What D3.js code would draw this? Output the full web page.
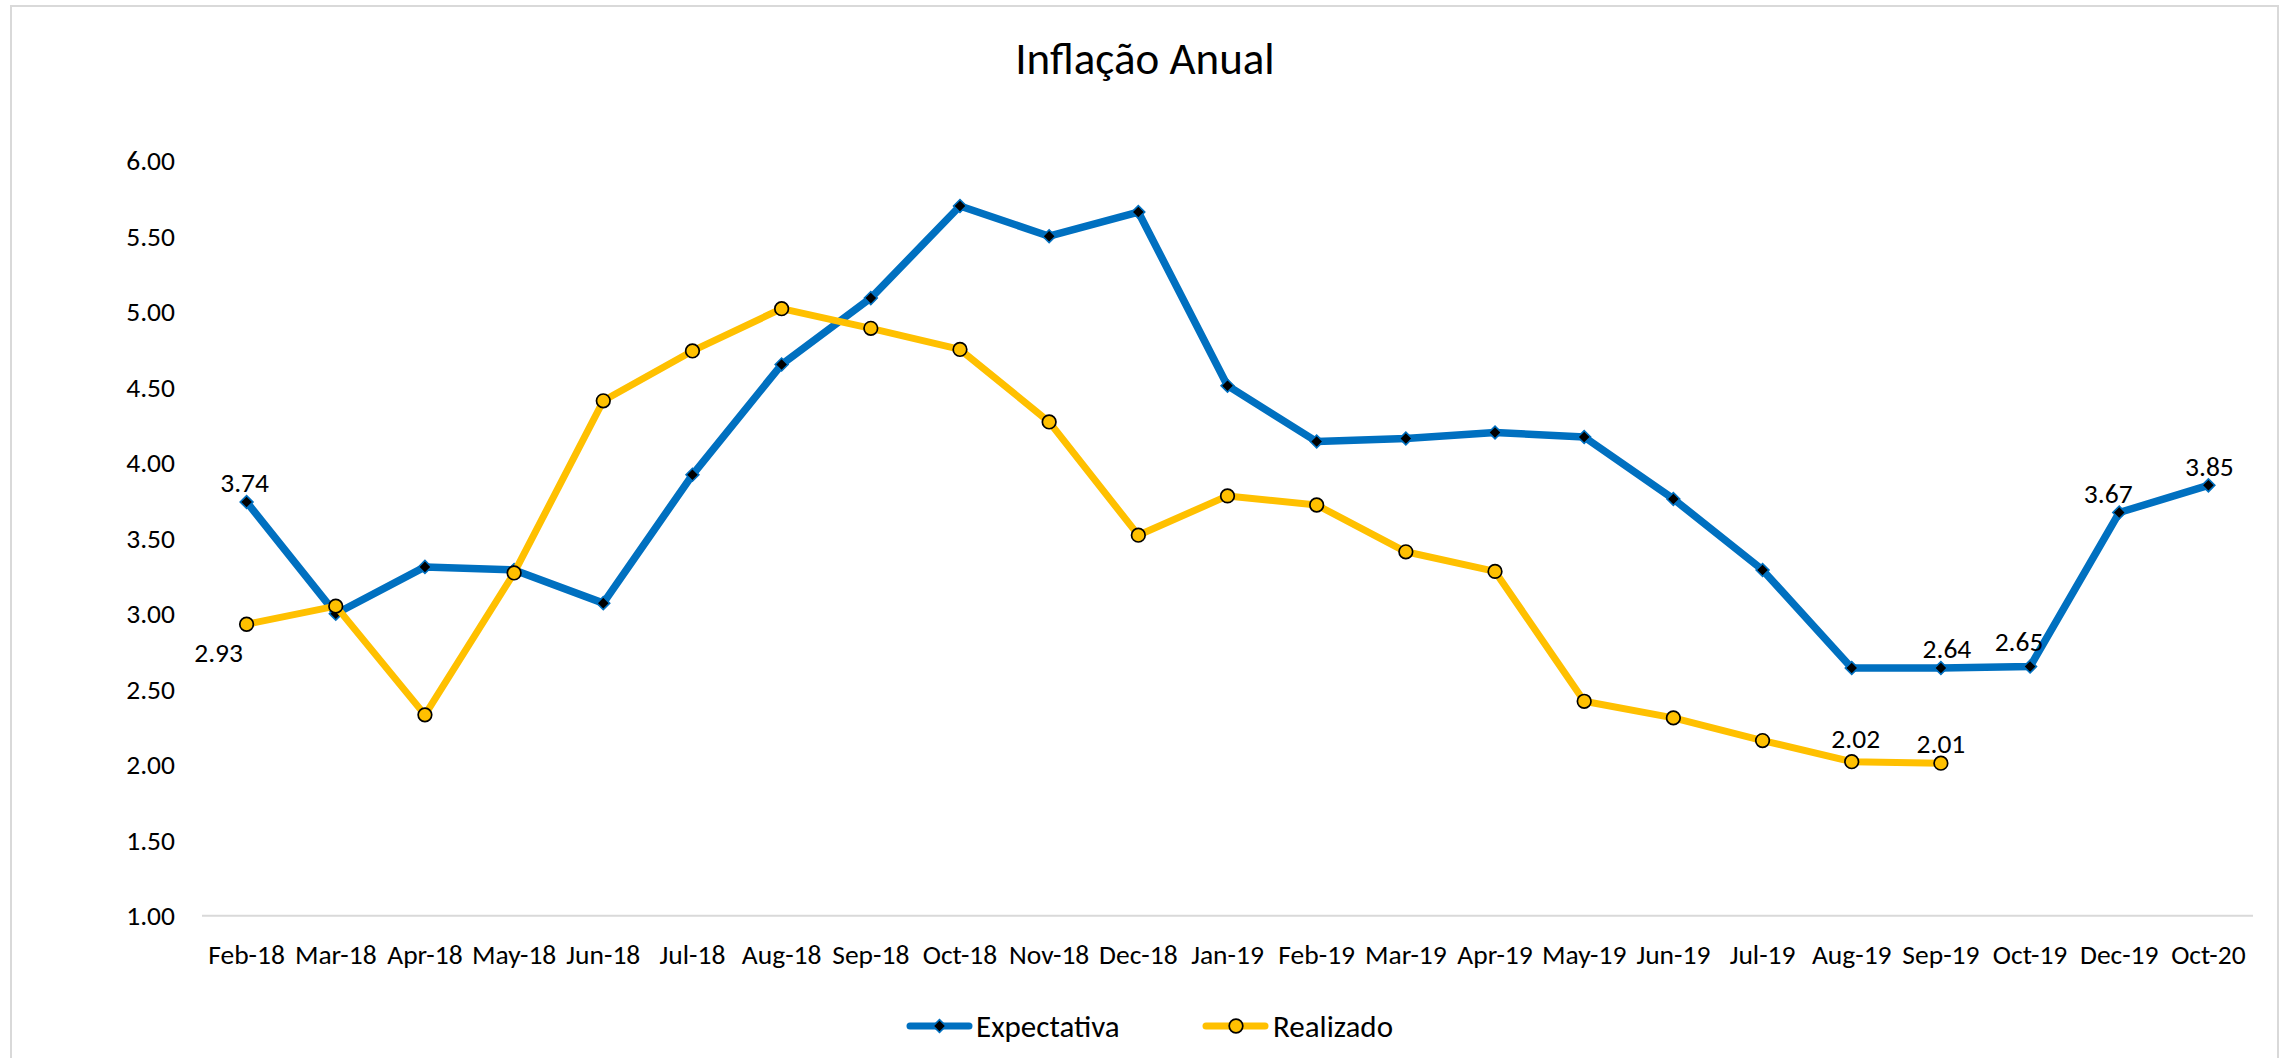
<!DOCTYPE html>
<html>
<head>
<meta charset="utf-8">
<script src="https://cdn.jsdelivr.net/npm/d3@7"></script>
<style>
  html, body { margin: 0; padding: 0; background: #ffffff; }
  svg { display: block; }
  text { font-family: Carlito, Calibri, Lato, sans-serif; fill: #000; }
</style>
</head>
<body>
<svg id="chart" width="2285" height="1058"></svg>
<script>
// ---- data ----
const title = "Inflação Anual";
const categories = ["Feb-18","Mar-18","Apr-18","May-18","Jun-18","Jul-18","Aug-18","Sep-18","Oct-18","Nov-18","Dec-18","Jan-19","Feb-19","Mar-19","Apr-19","May-19","Jun-19","Jul-19","Aug-19","Sep-19","Oct-19","Dec-19","Oct-20"];
const expectativa = [3.74,3.00,3.31,3.29,3.07,3.92,4.65,5.09,5.70,5.50,5.66,4.51,4.14,4.16,4.20,4.17,3.76,3.29,2.64,2.64,2.65,3.67,3.85];
const realizado   = [2.93,3.05,2.33,3.27,4.41,4.74,5.02,4.89,4.75,4.27,3.52,3.78,3.72,3.41,3.28,2.42,2.31,2.16,2.02,2.01];
const yTicks = [1.00,1.50,2.00,2.50,3.00,3.50,4.00,4.50,5.00,5.50,6.00];
const seriesNames = ["Expectativa","Realizado"];
const expectativaLabelIdx = [0,19,20,21,22];
const realizadoLabelIdx = [0,18,19];

// ---- styles / layout ----
const BLUE = "#0070C0", YELLOW = "#FFC000", GRID = "#d9d9d9";
const tickFont = 27.5, titleFont = 45, legendFont = 31;
const labelOffsets = {
  "Expectativa": {0:[-2,-20], 19:[6,-20], 20:[-11,-25], 21:[-11,-19], 22:[1,-19]},
  "Realizado":   {0:[-28,28], 18:[4,-23], 19:[0,-20]}
};

const svg = d3.select("#chart");

// outer border
svg.append("rect").attr("x", 11).attr("y", 6).attr("width", 2267).attr("height", 1080)
  .attr("fill", "#fff").attr("stroke", GRID).attr("stroke-width", 2);

const x = d3.scaleBand().domain(categories).range([202, 2253]).padding(0);
const xc = c => x(c) + x.bandwidth() / 2;
const y = d3.scaleLinear().domain([1, 6]).range([915.7, 160.7]);

// title
svg.append("text").attr("x", 1145).attr("y", 58).attr("text-anchor", "middle")
  .attr("dominant-baseline", "central").style("font-size", titleFont + "px").text(title);

// baseline gridline
svg.append("line").attr("x1", 202).attr("x2", 2253).attr("y1", y(1)).attr("y2", y(1))
  .attr("stroke", GRID).attr("stroke-width", 2);

// y axis
const yAxis = svg.append("g").attr("transform", "translate(202,0)")
  .call(d3.axisLeft(y).tickValues(yTicks).tickFormat(d3.format(".2f")).tickSize(0).tickPadding(27));
yAxis.select(".domain").remove();
yAxis.selectAll("text").style("font-size", tickFont + "px").attr("font-family", null);

// x axis
const xAxis = svg.append("g").attr("transform", `translate(0,${y(1)})`)
  .call(d3.axisBottom(x).tickSize(0));
xAxis.select(".domain").remove();
xAxis.selectAll("text").style("font-size", tickFont + "px").attr("font-family", null)
  .attr("y", 38.5).attr("dy", "0.35em");

function drawDiamond(g, cx, cy) {
  g.append("path").attr("d", d3.symbol().type(d3.symbolSquare).size(82)())
    .attr("transform", `translate(${cx},${cy}) rotate(45)`)
    .attr("fill", "#000").attr("stroke", BLUE).attr("stroke-width", 1.6);
}
function drawCircle(g, cx, cy) {
  g.append("circle").attr("cx", cx).attr("cy", cy).attr("r", 6.8)
    .attr("fill", YELLOW).attr("stroke", "#000").attr("stroke-width", 1.7);
}

const line = d3.line().x((d, i) => xc(categories[i])).y(d => y(d));

// Expectativa
const gB = svg.append("g");
gB.append("path").datum(expectativa).attr("d", line).attr("fill", "none")
  .attr("stroke", BLUE).attr("stroke-width", 7.5).attr("stroke-linejoin", "round").attr("stroke-linecap", "round");
expectativa.forEach((v, i) => drawDiamond(gB, xc(categories[i]), y(v)));

// Realizado
const gY = svg.append("g");
gY.append("path").datum(realizado).attr("d", line).attr("fill", "none")
  .attr("stroke", YELLOW).attr("stroke-width", 7).attr("stroke-linejoin", "round").attr("stroke-linecap", "round");
realizado.forEach((v, i) => drawCircle(gY, xc(categories[i]), y(v)));

// data labels
function addLabels(name, values, idxs) {
  idxs.forEach(i => {
    const off = labelOffsets[name][i];
    svg.append("text").attr("x", xc(categories[i]) + off[0]).attr("y", y(values[i]) + off[1])
      .attr("text-anchor", "middle").attr("dy", "0.35em").style("font-size", tickFont + "px")
      .text(d3.format(".2f")(values[i]));
  });
}
addLabels("Expectativa", expectativa, expectativaLabelIdx);
addLabels("Realizado", realizado, realizadoLabelIdx);

// legend
const legY = 1026;
const lg = svg.append("g");
lg.append("line").attr("x1", 910).attr("x2", 969).attr("y1", legY).attr("y2", legY)
  .attr("stroke", BLUE).attr("stroke-width", 7).attr("stroke-linecap", "round");
drawDiamond(lg, 939.5, legY);
lg.append("text").attr("x", 976).attr("y", legY).attr("dy", "0.35em").style("font-size", legendFont + "px").text(seriesNames[0]);
lg.append("line").attr("x1", 1206).attr("x2", 1265).attr("y1", legY).attr("y2", legY)
  .attr("stroke", YELLOW).attr("stroke-width", 7).attr("stroke-linecap", "round");
drawCircle(lg, 1236, legY);
lg.append("text").attr("x", 1273).attr("y", legY).attr("dy", "0.35em").style("font-size", legendFont + "px").text(seriesNames[1]);
</script>
</body>
</html>
